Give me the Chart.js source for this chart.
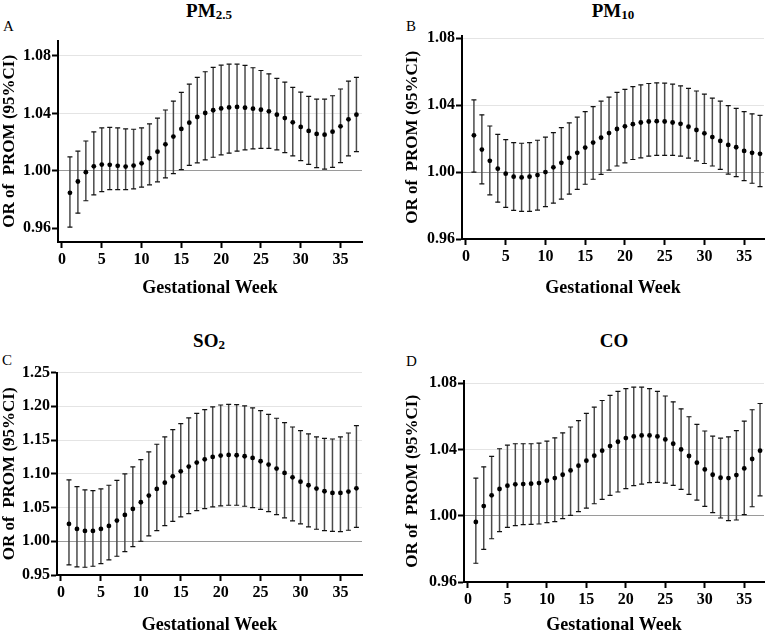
<!DOCTYPE html>
<html>
<head>
<meta charset="utf-8">
<script src="https://cdn.jsdelivr.net/npm/chart.js@4.4.0/dist/chart.umd.min.js"></script>
<style>
  html, body { margin: 0; padding: 0; background: #fff; }
  #page { position: relative; width: 768px; height: 635px; overflow: hidden; font-family: 'Liberation Serif', 'Times New Roman', serif; color: #000; }
  .ttl { position: absolute; font-weight: bold; font-size: 19px; line-height: 1; transform: translateX(-50%); white-space: nowrap; }
  .ttl sub { font-size: 13px; position: relative; top: 2px; vertical-align: baseline; }
  .lbl { position: absolute; font-size: 15px; line-height: 1; }
  .wrap { position: absolute; }
</style>
</head>
<body>
<div id="page">
  <div class="ttl" style="left:209px;top:1px">PM<sub>2.5</sub></div>
  <div class="ttl" style="left:613px;top:1px">PM<sub>10</sub></div>
  <div class="ttl" style="left:209px;top:331px">SO<sub>2</sub></div>
  <div class="ttl" style="left:614px;top:331px">CO</div>
  <div class="lbl" style="left:3px;top:19px">A</div>
  <div class="lbl" style="left:406px;top:19px">B</div>
  <div class="lbl" style="left:2px;top:353px">C</div>
  <div class="lbl" style="left:406px;top:354px">D</div>

  <div class="wrap" style="left:0px;top:30px;width:366px;height:270px"><canvas id="cA"></canvas></div>
  <div class="wrap" style="left:384px;top:25px;width:384px;height:275px"><canvas id="cB"></canvas></div>
  <div class="wrap" style="left:0px;top:362px;width:366px;height:273px"><canvas id="cC"></canvas></div>
  <div class="wrap" style="left:384px;top:370px;width:384px;height:265px"><canvas id="cD"></canvas></div>
</div>
<script>
// gestational weeks
const weeks = [1,2,3,4,5,6,7,8,9,10,11,12,13,14,15,16,17,18,19,20,21,22,23,24,25,26,27,28,29,30,31,32,33,34,35,36,37];
const xTicks = [0,5,10,15,20,25,30,35];

// PM2.5
const pm25Or = [0.9847,0.9926,0.9991,1.0032,1.0044,1.0042,1.0035,1.0030,1.0037,1.0053,1.0088,1.0134,1.0185,1.0239,1.0292,1.0336,1.0375,1.0403,1.0422,1.0435,1.0442,1.0445,1.0440,1.0433,1.0426,1.0415,1.0391,1.0368,1.0338,1.0306,1.0278,1.0257,1.0252,1.0273,1.0310,1.0359,1.0391];
const pm25Lo = [0.9609,0.9706,0.9792,0.9833,0.9856,0.9870,0.9870,0.9870,0.9875,0.9887,0.9903,0.9924,0.9951,0.9981,1.0009,1.0039,1.0056,1.0076,1.0095,1.0111,1.0123,1.0137,1.0146,1.0153,1.0157,1.0157,1.0146,1.0127,1.0104,1.0072,1.0046,1.0023,1.0012,1.0025,1.0058,1.0104,1.0134];
const pm25Hi = [1.0097,1.0137,1.0208,1.0271,1.0299,1.0303,1.0299,1.0292,1.0290,1.0299,1.0327,1.0368,1.0424,1.0486,1.0547,1.0604,1.0651,1.0690,1.0720,1.0736,1.0743,1.0743,1.0734,1.0718,1.0699,1.0676,1.0644,1.0618,1.0581,1.0549,1.0519,1.0500,1.0500,1.0523,1.0570,1.0625,1.0651];
const pm25Ticks = [0.96,1.00,1.04,1.08];

// PM10
const pm10Or = [1.0219,1.0134,1.0067,1.0020,0.9990,0.9972,0.9968,0.9972,0.9982,1.0000,1.0028,1.0055,1.0085,1.0115,1.0146,1.0176,1.0205,1.0233,1.0257,1.0273,1.0286,1.0296,1.0302,1.0304,1.0302,1.0296,1.0288,1.0271,1.0251,1.0231,1.0209,1.0186,1.0162,1.0148,1.0126,1.0115,1.0109];
const pm10Lo = [1.0000,0.9929,0.9864,0.9820,0.9789,0.9771,0.9765,0.9765,0.9773,0.9793,0.9814,0.9838,0.9868,0.9897,0.9927,0.9957,0.9986,1.0012,1.0036,1.0055,1.0075,1.0085,1.0095,1.0099,1.0099,1.0099,1.0095,1.0083,1.0067,1.0051,1.0036,1.0016,0.9988,0.9972,0.9949,0.9933,0.9913];
const pm10Hi = [1.0431,1.0342,1.0275,1.0225,1.0194,1.0176,1.0172,1.0176,1.0190,1.0209,1.0235,1.0265,1.0294,1.0328,1.0361,1.0391,1.0423,1.0448,1.0476,1.0494,1.0510,1.0521,1.0529,1.0533,1.0531,1.0525,1.0515,1.0500,1.0484,1.0466,1.0442,1.0423,1.0397,1.0380,1.0361,1.0348,1.0338];
const pm10Ticks = [0.96,1.00,1.04,1.08];

// SO2
const so2Or = [1.0257,1.0183,1.0153,1.0153,1.0183,1.0227,1.0306,1.0390,1.0479,1.0578,1.0677,1.0776,1.0869,1.0963,1.1037,1.1107,1.1166,1.1215,1.1250,1.1270,1.1280,1.1275,1.1260,1.1235,1.1186,1.1136,1.1077,1.1013,1.0948,1.0884,1.0830,1.0781,1.0741,1.0716,1.0716,1.0736,1.0785];
const so2Lo = [0.9649,0.9620,0.9615,0.9630,0.9669,0.9723,0.9778,0.9847,0.9921,1.0000,1.0079,1.0158,1.0232,1.0296,1.0361,1.0410,1.0454,1.0484,1.0509,1.0524,1.0534,1.0534,1.0519,1.0499,1.0474,1.0440,1.0395,1.0346,1.0301,1.0257,1.0212,1.0178,1.0158,1.0148,1.0143,1.0163,1.0207];
const so2Hi = [1.0909,1.0810,1.0761,1.0751,1.0776,1.0830,1.0904,1.0998,1.1102,1.1210,1.1324,1.1438,1.1546,1.1655,1.1744,1.1828,1.1897,1.1951,1.1991,1.2020,1.2030,1.2025,1.2006,1.1976,1.1936,1.1882,1.1823,1.1759,1.1694,1.1640,1.1591,1.1546,1.1526,1.1516,1.1546,1.1605,1.1714];
const so2Ticks = [0.95,1.00,1.05,1.10,1.15,1.20,1.25];

// CO
const coOr = [0.9962,1.0058,1.0123,1.0161,1.0181,1.0189,1.0191,1.0193,1.0197,1.0211,1.0227,1.0247,1.0273,1.0302,1.0332,1.0362,1.0392,1.0420,1.0446,1.0468,1.0478,1.0484,1.0484,1.0478,1.0460,1.0434,1.0400,1.0360,1.0320,1.0279,1.0247,1.0229,1.0227,1.0245,1.0285,1.0342,1.0392];
const coLo = [0.9713,0.9797,0.9861,0.9904,0.9930,0.9940,0.9946,0.9948,0.9950,0.9958,0.9964,0.9982,1.0002,1.0024,1.0046,1.0072,1.0098,1.0123,1.0143,1.0163,1.0181,1.0191,1.0199,1.0201,1.0197,1.0183,1.0159,1.0129,1.0094,1.0056,1.0018,0.9986,0.9970,0.9974,1.0006,1.0054,1.0120];
const coHi = [1.0227,1.0295,1.0358,1.0404,1.0426,1.0434,1.0434,1.0434,1.0438,1.0450,1.0470,1.0500,1.0535,1.0573,1.0617,1.0655,1.0695,1.0726,1.0750,1.0766,1.0776,1.0776,1.0766,1.0750,1.0722,1.0687,1.0645,1.0597,1.0551,1.0511,1.0480,1.0468,1.0476,1.0513,1.0571,1.0639,1.0677];
const coTicks = [0.96,1.00,1.04,1.08];

const FONT = "'Liberation Serif', 'Times New Roman', serif";

// whiskers drawn under the points, through the chart's own scales
function errorBars(lo, hi) {
  return {
    id: 'errorBars',
    beforeDatasetsDraw(chart) {
      const { ctx, scales: { x, y } } = chart;
      ctx.save();
      weeks.forEach((w, i) => {
        const px = x.getPixelForValue(w);
        const top = y.getPixelForValue(hi[i]);
        const bot = y.getPixelForValue(lo[i]);
        ctx.strokeStyle = '#4a4a4a';
        ctx.lineWidth = 1.5;
        ctx.beginPath(); ctx.moveTo(px, top); ctx.lineTo(px, bot); ctx.stroke();
        ctx.strokeStyle = '#111';
        ctx.lineWidth = 1.2;
        ctx.beginPath();
        ctx.moveTo(px - 2.5, top); ctx.lineTo(px + 2.5, top);
        ctx.moveTo(px - 2.5, bot); ctx.lineTo(px + 2.5, bot);
        ctx.stroke();
      });
      ctx.restore();
    }
  };
}

function makePanel(id, or, lo, hi, yTicks, p) {
  new Chart(document.getElementById(id), {
    type: 'scatter',
    data: {
      datasets: [{
        data: weeks.map((w, i) => ({ x: w, y: or[i] })),
        pointRadius: 2.4,
        pointBackgroundColor: '#000',
        pointBorderWidth: 0
      }]
    },
    plugins: [errorBars(lo, hi)],
    options: {
      responsive: true,
      maintainAspectRatio: false,
      devicePixelRatio: 1,
      animation: false,
      layout: { padding: { top: 10, right: 4, left: 0, bottom: 0 } },
      plugins: { legend: { display: false }, tooltip: { enabled: false } },
      scales: {
        x: {
          type: 'linear',
          min: -0.5, max: p.xMax,
          afterBuildTicks: s => { s.ticks = xTicks.map(v => ({ value: v })); },
          afterFit: s => { s.height = p.xh; },
          grid: { drawOnChartArea: false, drawTicks: true, tickLength: 6, tickColor: '#000', tickWidth: 2 },
          border: { display: true, color: '#000', width: 2 },
          ticks: { color: '#000', padding: 2, maxRotation: 0, font: { family: FONT, size: 16, weight: 'bold' } },
          title: { display: true, text: 'Gestational Week', color: '#000', padding: { top: 0, bottom: p.xtPad }, font: { family: FONT, size: 18, weight: 'bold', lineHeight: 1.1 } }
        },
        y: {
          min: p.yMin, max: p.yMax,
          afterBuildTicks: s => { s.ticks = yTicks.map(v => ({ value: v })); },
          afterFit: s => { s.width = p.yw; },
          grid: {
            drawTicks: true, tickLength: 6, tickColor: '#000', tickWidth: 2, lineWidth: 1,
            color: c => {
              const v = c.tick ? c.tick.value : 0;
              if (Math.abs(v - 1) < 1e-9) return '#9a9a9a';
              return v > 1 ? '#e4e4e4' : 'rgba(0,0,0,0)';
            }
          },
          border: { display: true, color: '#000', width: 2 },
          ticks: { color: '#000', padding: 1, callback: v => Number(v).toFixed(2), font: { family: FONT, size: 16, weight: 'bold' } },
          title: { display: true, text: 'OR of  PROM (95%CI)', color: '#000', padding: { top: p.ytPad, bottom: 0 }, font: { family: FONT, size: 17, weight: 'bold', lineHeight: 1.1 } }
        }
      }
    }
  });
}

makePanel('cA', pm25Or, pm25Lo, pm25Hi, pm25Ticks, { xMax: 37.7, yMin: 0.9505, yMax: 1.0907, yw: 58, xh: 58, xtPad: 2, ytPad: 0 });
makePanel('cB', pm10Or, pm10Lo, pm10Hi, pm10Ticks, { xMax: 37.5, yMin: 0.96, yMax: 1.0815, yw: 78, xh: 61, xtPad: 2, ytPad: 19 });
makePanel('cC', so2Or, so2Lo, so2Hi, so2Ticks, { xMax: 37.7, yMin: 0.95, yMax: 1.25, yw: 57, xh: 60, xtPad: 0, ytPad: 0 });
makePanel('cD', coOr, coLo, coHi, coTicks, { xMax: 37.5, yMin: 0.96, yMax: 1.0815, yw: 80, xh: 53, xtPad: 0, ytPad: 19 });
</script>
</body>
</html>
